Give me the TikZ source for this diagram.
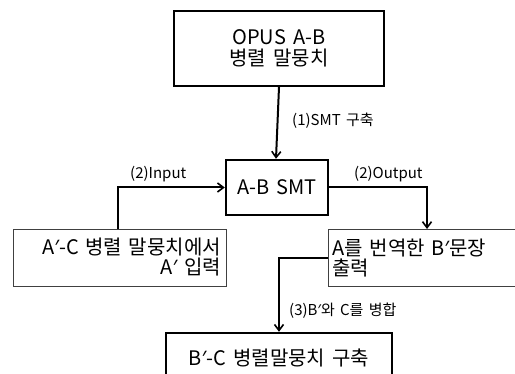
\documentclass[tikz,border=0pt]{standalone}
\usepackage{fontspec}
\setmainfont{Noto Sans CJK KR}[WordSpace=1.6]
\newfontfamily\latinfont{Noto Sans}
\usetikzlibrary{arrows.meta,calc}
\newcommand\pr{{\latinfont ′}}
\begin{document}
\begin{tikzpicture}[x=1pt,y=-1pt,
  thickbox/.style={draw=black,line width=2.4pt,fill=white,inner sep=0pt,align=center,font=\fontsize{20}{24}\selectfont},
  thinbox/.style={draw=black!75,line width=0.9pt,fill=white,inner sep=0pt,font=\fontsize{20}{24}\selectfont},
  arr/.style={line width=2pt,-{Straight Barb[length=6pt,width=9pt,line width=1.6pt]}},
  lab/.style={font=\fontsize{15}{17}\selectfont,inner sep=0pt}]
\useasboundingbox (0,0) rectangle (515,374);
\node[thickbox,minimum width=210pt,minimum height=75pt] (opus) at (279,48.5) {OPUS A-B\\[-3pt]병렬 말뭉치};
\node[thickbox,minimum width=102pt,minimum height=55pt] (smt) at (277,187.5) {A-B SMT};
\node[thinbox,minimum width=213pt,minimum height=57pt,align=right,text width=203pt] (left) at (119.5,257.5) {A\pr{}-C 병렬 말뭉치에서\\[-4pt]A\pr{} 입력};
\node[thinbox,minimum width=200pt,minimum height=57pt,align=left,text width=192pt,anchor=north west] (right) at (328,229) {A를 번역한 B\pr{}문장\\[-4pt]출력};
\node[thickbox,minimum width=226pt,minimum height=50pt] (bot) at (279,358) {B\pr{}-C 병렬말뭉치 구축};
\coordinate (rn) at ($(right.north west)+(99,0)$);
\draw[arr] (opus.south) -- ([xshift=-1pt]smt.north);
\draw[arr] ([xshift=-1.5pt]left.north) |- (smt.west);
\draw[arr] (smt.east) -| (rn);
\draw[arr] (right.west) -| (bot.north);
\node[lab,anchor=west] (l1) at (292,121) {(1)SMT 구축};
\node[lab,anchor=west] (l2) at (130,174) {(2)Input};
\node[lab,anchor=west] (l3) at (354,174) {(2)Output};
\node[lab,anchor=west] (l4) at (289,311) {(3)B\pr{}와 C를 병합};
\end{tikzpicture}
\end{document}
